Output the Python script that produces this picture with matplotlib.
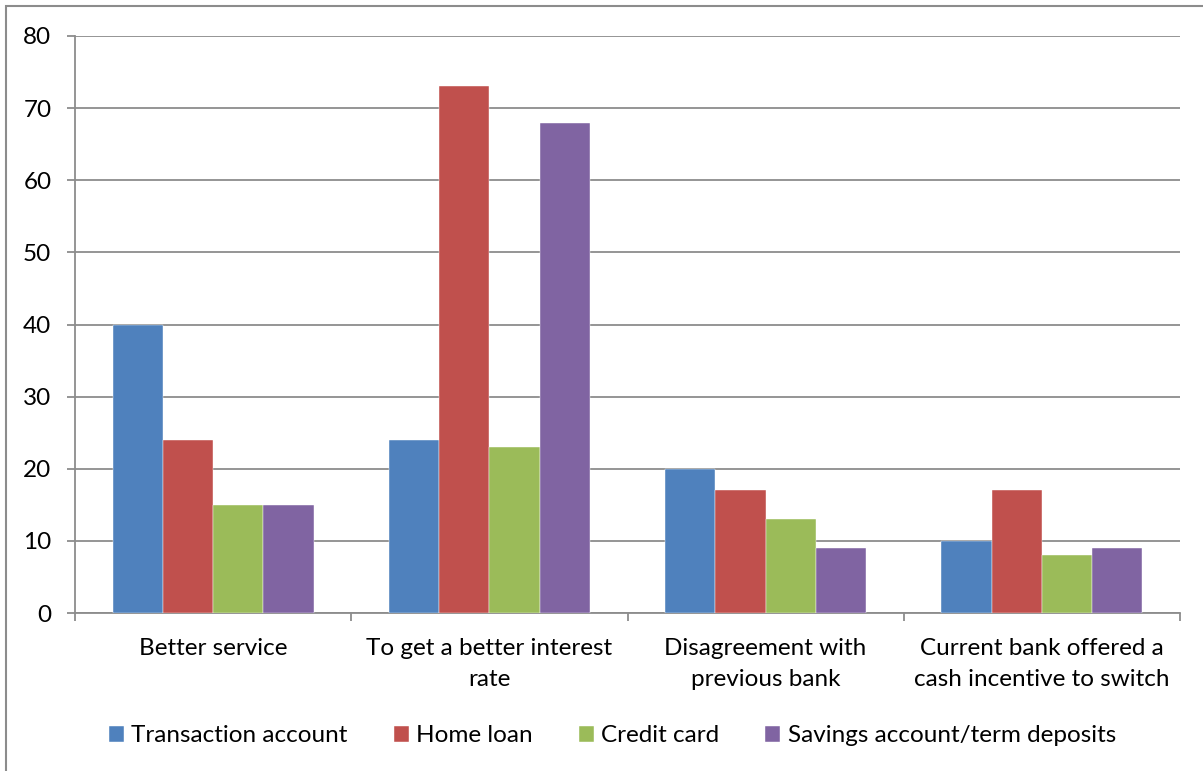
import matplotlib
matplotlib.use("Agg")
import matplotlib.pyplot as plt
import matplotlib.patches as mpatches
import numpy as np

categories = ["Better service", "To get a better interest\nrate",
              "Disagreement with\nprevious bank", "Current bank offered a\ncash incentive to switch"]
series_names = ["Transaction account", "Home loan", "Credit card", "Savings account/term deposits"]
transaction = [40, 24, 20, 10]
home_loan = [24, 73, 17, 17]
credit_card = [15, 23, 13, 8]
savings = [15, 68, 9, 9]
colors = ["#4F81BD", "#C0504D", "#9BBB59", "#8064A2"]
yticks = [0, 10, 20, 30, 40, 50, 60, 70, 80]

plt.rcParams['font.family'] = ['Lato', 'DejaVu Sans']

W, H = 1203, 771
fig = plt.figure(figsize=(W / 100, H / 100), dpi=100)
ax = fig.add_axes([75 / W, (H - 613) / H, 1105 / W, 577 / H])

data = [transaction, home_loan, credit_card, savings]
x = np.arange(len(categories))
bw = 1 / 5.5
for i, (vals, name, c) in enumerate(zip(data, series_names, colors)):
    ax.bar(x + (i - 1.5) * bw, vals, width=bw, color=c, label=name, zorder=3,
           edgecolor='white', linewidth=0.3)

ax.set_xlim(-0.5, len(categories) - 0.5)
ax.set_ylim(0, 80)
ax.set_yticks(yticks)
ax.yaxis.grid(True, color='#8C8C8C', linewidth=1.3, zorder=0)
ax.set_axisbelow(True)

gray = '#8C8C8C'
for s in ['top', 'right']:
    ax.spines[s].set_visible(False)
for s in ['left', 'bottom']:
    ax.spines[s].set_color(gray)
    ax.spines[s].set_linewidth(1.3)

ax.tick_params(axis='y', length=6, width=1.3, color=gray, pad=11, labelsize=17.5)
ax.set_xticks(x)
ax.set_xticklabels(categories, fontsize=17.5, linespacing=1.6)
ax.tick_params(axis='x', which='major', length=0, pad=18)
ax.set_xticks(np.arange(-0.5, len(categories)), minor=True)
ax.tick_params(axis='x', which='minor', length=6, width=1.3, color=gray)

leg = fig.legend(loc='center', bbox_to_anchor=(0.509, (H - 736) / H), ncol=4, frameon=False,
                 fontsize=17.5, handlelength=0.62, handleheight=0.62, handletextpad=0.3,
                 columnspacing=1.9)

border = mpatches.Rectangle((6 / W, -0.1), 1.2, (H - 6) / H + 0.1, transform=fig.transFigure,
                            fill=False, edgecolor='#8C8C8C', linewidth=1.5)
fig.patches.append(border)

fig.savefig("out.png", dpi=100)
